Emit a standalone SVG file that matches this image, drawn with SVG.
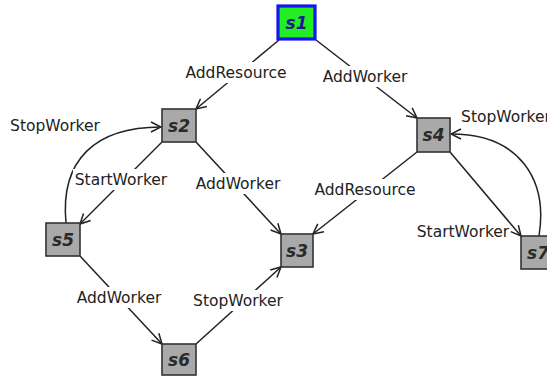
<svg xmlns="http://www.w3.org/2000/svg" width="547" height="377" viewBox="0 0 547 377">
<style>
.box{fill:#a9a9a9;stroke:#333;stroke-width:1.6}
.nl{font-family:"DejaVu Sans",sans-serif;font-size:17px;font-weight:bold;font-style:italic;fill:#2a2a2a;text-anchor:middle}
.e{fill:none;stroke:#222;stroke-width:1.5;marker-end:url(#arr)}
.lb{font-family:"DejaVu Sans",sans-serif;font-size:15.5px;fill:#222;text-anchor:middle}
.bg{fill:#fff}
</style>
<defs>
<marker id="arr" viewBox="0 0 12 12" refX="11" refY="6" markerWidth="12" markerHeight="12" markerUnits="userSpaceOnUse" orient="auto">
<path d="M1,1 L11,6 L1,11" fill="none" stroke="#222" stroke-width="1.5"/>
</marker>
</defs>
<rect width="547" height="377" fill="#fff"/>
<g id="connectors">
<path class="e" d="M279,40 L196,109"/>
<path class="e" d="M316,40 L417,118"/>
<path class="e" d="M162,142 L80,224"/>
<path class="e" d="M66,223 C60,160 95,127 161,127"/>
<path class="e" d="M196,142 L281,234"/>
<path class="e" d="M417,152 L313,234"/>
<path class="e" d="M450,152 L521,236"/>
<path class="e" d="M539,236 C548,180 520,134 451,134"/>
<path class="e" d="M80,256 L162,344"/>
<path class="e" d="M196,344 L281,267"/>
<rect class="bg" x="181" y="62" width="110" height="21"/>
<text class="lb" x="236" y="78">AddResource</text>
<rect class="bg" x="320" y="66" width="90" height="21"/>
<text class="lb" x="365" y="82">AddWorker</text>
<text class="lb" x="55" y="131">StopWorker</text>
<rect class="bg" x="73" y="169" width="96" height="21"/>
<text class="lb" x="121" y="185">StartWorker</text>
<rect class="bg" x="193" y="173" width="90" height="21"/>
<text class="lb" x="238" y="189">AddWorker</text>
<rect class="bg" x="310" y="179" width="110" height="21"/>
<text class="lb" x="365" y="195">AddResource</text>
<text class="lb" x="506" y="122">StopWorker</text>
<text class="lb" x="463" y="237">StartWorker</text>
<rect class="bg" x="74" y="287" width="90" height="21"/>
<text class="lb" x="119" y="303">AddWorker</text>
<rect class="bg" x="191" y="290" width="94" height="21"/>
<text class="lb" x="238" y="306">StopWorker</text>
</g>
<g id="s1">
<rect x="278" y="6" width="37" height="33" fill="#22ee22" stroke="#1515ee" stroke-width="3.2"/>
<text class="nl" x="296.5" y="29" style="fill:#1a1a90">s1</text>
</g>
<g id="s2"><rect class="box" x="162" y="109" width="34" height="33"/><text class="nl" x="179" y="132">s2</text></g>
<g id="s4"><rect class="box" x="417" y="118" width="33" height="34"/><text class="nl" x="433.5" y="141">s4</text></g>
<g id="s5"><rect class="box" x="46" y="223" width="34" height="33"/><text class="nl" x="63" y="246">s5</text></g>
<g id="s3"><rect class="box" x="281" y="234" width="32" height="33"/><text class="nl" x="297" y="257">s3</text></g>
<g id="s7"><rect class="box" x="521" y="236" width="34" height="33"/><text class="nl" x="538" y="259">s7</text></g>
<g id="s6"><rect class="box" x="162" y="344" width="34" height="31"/><text class="nl" x="179" y="366">s6</text></g>
</svg>
